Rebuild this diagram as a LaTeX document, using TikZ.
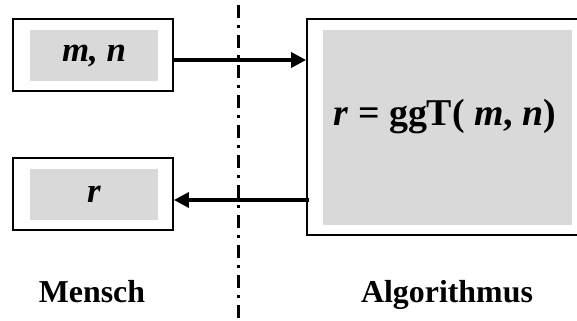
\documentclass[tikz,border=0pt]{standalone}
\usepackage{fontspec}
\setmainfont{Liberation Serif}
\usetikzlibrary{arrows.meta}
\definecolor{boxgray}{HTML}{D9D9D9}

\begin{document}
\begin{tikzpicture}[x=1bp,y=-1bp,
  outer/.style={draw, line width=1.8bp, inner sep=0pt},
  inner/.style={fill=boxgray, inner sep=0pt, font=\fontsize{35}{40}\selectfont\bfseries\itshape},
  flow/.style={line width=3.4bp, -{Triangle[length=15bp,width=15bp]}},
  divider/.style={line width=3bp, dash pattern=on 13bp off 7bp on 2.5bp off 7.5bp},
  caption/.style={font=\fontsize{32}{36}\selectfont\bfseries, anchor=base}]

\useasboundingbox (0,0) rectangle (577,320);

\node[outer, minimum width=160bp, minimum height=72bp] (inbox) at (93,55) {};
\node[inner, minimum width=128bp, minimum height=51bp] (mn) at (94,55.5) {m, n};

\node[outer, minimum width=160bp, minimum height=72bp] (outbox) at (93,194) {};
\node[inner, minimum width=128bp, minimum height=51bp] (r) at (94,194.5) {r};

\node[outer, minimum width=276bp, minimum height=216bp] (algo) at (445,127) {};
\node[inner, minimum width=249bp, minimum height=195bp] (ggt) at (447.5,127.5) {};
\node[font=\fontsize{38}{42}\selectfont\bfseries, anchor=base] (formula) at (445,125)
  {\textit{r} = ggT( \textit{m}, \textit{n})};

\coordinate (top) at (238,5);
\coordinate (bottom) at (238,320);
\draw[divider] (top) -- (bottom);

\coordinate (back) at ([yshift=-6bp]outbox.east -| algo.west);
\draw[flow] ([yshift=-5bp]inbox.east) -- ([yshift=-5bp]inbox.east -| algo.west);
\draw[flow] ([xshift=3bp]back) -- ([yshift=-6bp]outbox.east);

\node[caption] (mensch) at (92,302) {Mensch};
\node[caption] (algorithmus) at (447,302) {Algorithmus};
\end{tikzpicture}
\end{document}
